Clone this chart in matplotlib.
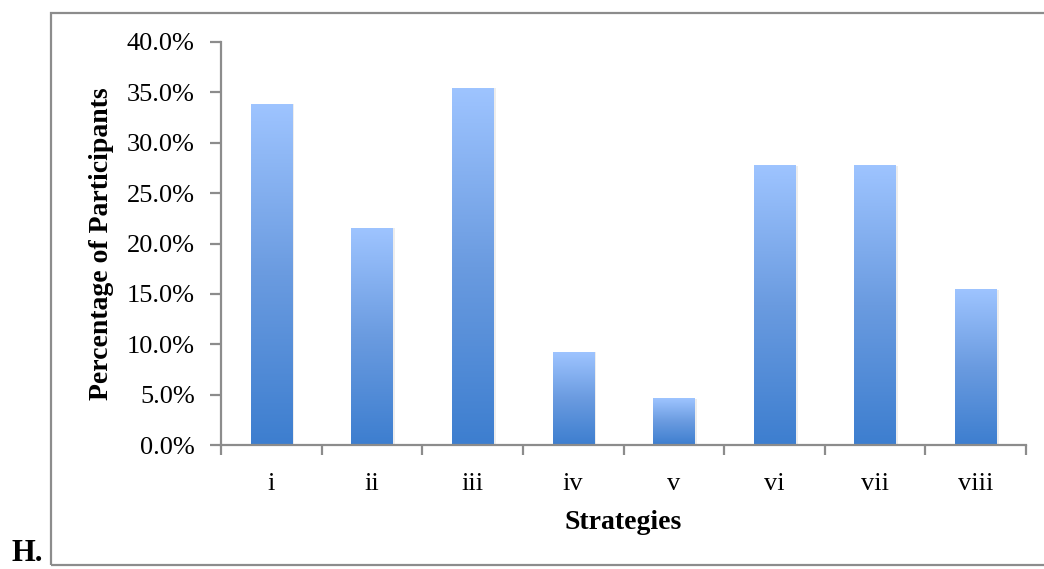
import matplotlib.pyplot as plt
import numpy as np
from matplotlib.colors import LinearSegmentedColormap
from matplotlib.patches import Rectangle
from matplotlib.ticker import FuncFormatter

strategies = ['i', 'ii', 'iii', 'iv', 'v', 'vi', 'vii', 'viii']
share = [0.338, 0.215, 0.354, 0.092, 0.046, 0.277, 0.277, 0.154]

plt.rcParams['font.family'] = ['Liberation Serif', 'DejaVu Serif']

fig = plt.figure(figsize=(10.44, 5.69), dpi=100)
ax = fig.add_axes([0.2117, 0.2179, 0.7711, 0.7083])

# light frame around the chart
fig.patches.append(Rectangle((0.049, 0.007), 1.0, 0.970, transform=fig.transFigure,
                             fill=False, edgecolor='#8c8c8c', linewidth=1.6))

grad = LinearSegmentedColormap.from_list('blues', ['#3d7ecf', '#6a9be0', '#9ec4ff'])
x = np.arange(len(strategies))
width = 0.41

# soft shadow behind every bar
ax.bar(x + 0.015, share, width=width + 0.02, color='#000000', alpha=0.07, zorder=1)
bars = ax.bar(x, share, width=width, color='none', zorder=2)
for b in bars:
    x0, w, h = b.get_x(), b.get_width(), b.get_height()
    ax.imshow(np.linspace(0, 1, 256).reshape(-1, 1), cmap=grad, origin='lower',
              extent=(x0, x0 + w, 0, h), aspect='auto', zorder=2,
              interpolation='bilinear')

ax.set_xlim(-0.5, len(strategies) - 0.5)
ax.set_ylim(0, 0.40)
ax.set_yticks(np.arange(0, 0.401, 0.05))
ax.yaxis.set_major_formatter(FuncFormatter(lambda v, _: f'{v * 100:.1f}%'))
ax.set_xticks(x)
ax.set_xticklabels(strategies)
ax.set_xticks(np.arange(-0.5, len(strategies)), minor=True)

for side in ['top', 'right']:
    ax.spines[side].set_visible(False)
for side in ['left', 'bottom']:
    ax.spines[side].set_color('#8c8c8c')
    ax.spines[side].set_linewidth(1.6)

ax.tick_params(axis='y', length=8, width=1.6, color='#8c8c8c', labelsize=19, pad=11)
ax.tick_params(axis='x', which='major', length=0, labelsize=19, pad=20)
ax.tick_params(axis='x', which='minor', length=7, width=1.6, color='#8c8c8c')

ax.set_ylabel('Percentage of Participants', fontsize=20, fontweight='bold', labelpad=9)
ax.set_xlabel('Strategies', fontsize=20, fontweight='bold', labelpad=11)

fig.text(0.011, 0.014, 'H.', fontsize=22, fontweight='bold')

fig.savefig('out.png', dpi=100)
